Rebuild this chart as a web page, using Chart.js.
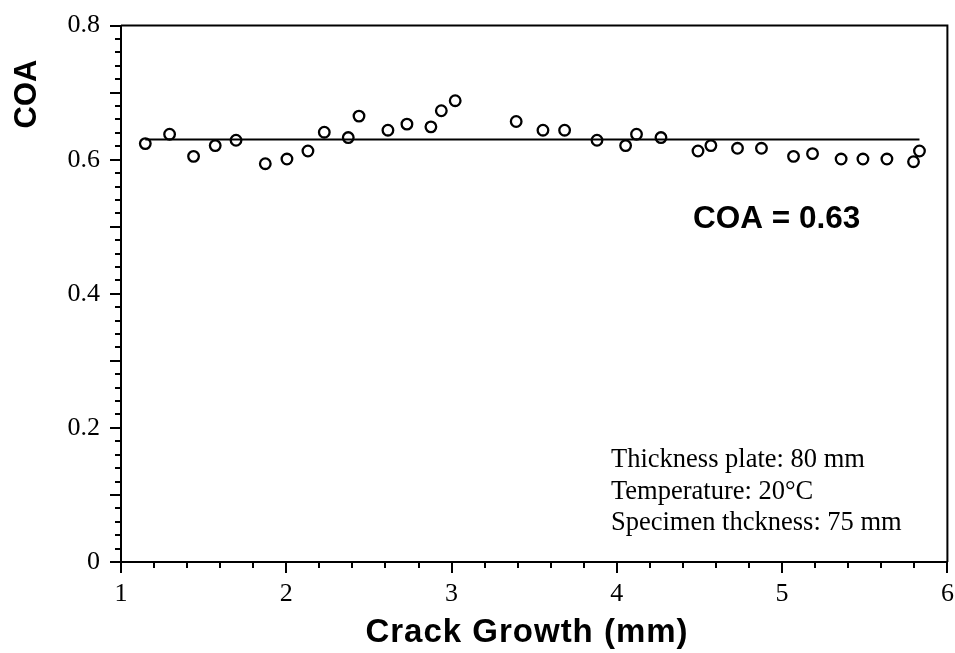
<!DOCTYPE html>
<html>
<head>
<meta charset="utf-8">
<script src="https://cdn.jsdelivr.net/npm/chart.js@4.4.0/dist/chart.umd.min.js"></script>
<style>
  body { margin: 0; background: #fff; }
  #wrap { width: 955px; height: 653px; }
</style>
</head>
<body>
<div id="wrap"><canvas id="coaChart" width="955" height="653"></canvas></div>
<script>
// measured points
const crackGrowth = [1.147, 1.294, 1.439, 1.570, 1.696, 1.873, 2.004, 2.131, 2.230, 2.375, 2.440, 2.615, 2.730, 2.875, 2.938, 3.022, 3.391,
    3.553, 3.684, 3.880, 4.053, 4.119, 4.267, 4.491, 4.569, 4.730, 4.875, 5.069, 5.184, 5.357, 5.489, 5.634, 5.795, 5.831];
const coaValues = [0.624, 0.638, 0.605, 0.621, 0.629, 0.594, 0.601, 0.613, 0.641, 0.633, 0.665, 0.644, 0.653, 0.649, 0.673, 0.688, 0.657,
    0.644, 0.644, 0.629, 0.621, 0.638, 0.633, 0.613, 0.621, 0.617, 0.617, 0.605, 0.609, 0.601, 0.601, 0.601, 0.597, 0.613];

// mean line
const meanCOA = 0.63;
const meanRange = [1.147, 5.831];

// axis labels
const xTickLabels = [1, 2, 3, 4, 5, 6];
const yTickLabels = [0, 0.2, 0.4, 0.6, 0.8];

const notes = ['Thickness plate: 80 mm', 'Temperature: 20°C', 'Specimen thckness: 75 mm'];

function near(v, list) {
    return list.find(t => Math.abs(t - v) < 1e-6);
}

// draw ticks, frame and texts
const extras = {
    id: 'extras',
    afterDraw(chart) {
        const ctx = chart.ctx;
        const area = chart.chartArea;
        const xs = chart.scales.x;
        const ys = chart.scales.y;
        ctx.save();
        ctx.strokeStyle = '#000';
        ctx.lineWidth = 2;
        ctx.beginPath();
        // top and right frame
        ctx.moveTo(area.left, area.top);
        ctx.lineTo(area.right, area.top);
        ctx.lineTo(area.right, area.bottom);
        xs.ticks.forEach((t, i) => {
            const px = Math.round(xs.getPixelForTick(i));
            const len = Math.abs(t.value - Math.round(t.value)) < 1e-6 ? 11 : 6;
            ctx.moveTo(px, area.bottom);
            ctx.lineTo(px, area.bottom + len);
        });
        ys.ticks.forEach((t, i) => {
            const py = Math.round(ys.getPixelForTick(i));
            const r = t.value * 10;
            const len = Math.abs(r - Math.round(r)) < 1e-6 ? 11 : 6;
            ctx.moveTo(area.left, py);
            ctx.lineTo(area.left - len, py);
        });
        ctx.stroke();

        ctx.fillStyle = '#000';
        // y title
        ctx.save();
        ctx.translate(36, 94);
        ctx.rotate(-Math.PI / 2);
        ctx.font = 'bold 31px "Liberation Sans", Arial, sans-serif';
        ctx.textAlign = 'center';
        ctx.textBaseline = 'alphabetic';
        ctx.fillText('COA', 0, 0);
        ctx.restore();

        // x title
        ctx.font = 'bold 33px "Liberation Sans", Arial, sans-serif';
        ctx.letterSpacing = '1px';
        ctx.textAlign = 'center';
        ctx.textBaseline = 'alphabetic';
        ctx.fillText('Crack Growth (mm)', 527, 642);
        ctx.letterSpacing = '0px';

        ctx.textAlign = 'left';
        ctx.font = 'bold 31.5px "Liberation Sans", Arial, sans-serif';
        ctx.fillText('COA = ' + meanCOA.toFixed(2), 693, 228);

        ctx.font = '26.5px "Liberation Serif", "Times New Roman", serif';
        notes.forEach((n, i) => {
            ctx.fillText(n, 611, 467 + i * 31.5);
        });
        ctx.restore();
    }
};

const tickFont = { family: '"Liberation Serif", "Times New Roman", serif', size: 26 };

new Chart(document.getElementById('coaChart'), {
    type: 'scatter',
    data: {
        datasets: [
            {
                label: 'COA',
                data: crackGrowth.map((x, i) => ({ x: x, y: coaValues[i] })),
                pointStyle: 'circle',
                pointRadius: 5.3,
                pointBorderWidth: 2.3,
                borderColor: '#000',
                backgroundColor: 'rgba(0,0,0,0)',
                order: 1
            },
            {
                label: 'mean',
                data: meanRange.map(x => ({ x: x, y: meanCOA })),
                showLine: true,
                borderColor: '#000',
                borderWidth: 2,
                pointRadius: 0,
                order: 2
            }
        ]
    },
    options: {
        responsive: false,
        animation: false,
        devicePixelRatio: 1,
        layout: { padding: { top: 23, right: 0, left: 0, bottom: 0 } },
        plugins: {
            legend: { display: false },
            tooltip: { enabled: false }
        },
        scales: {
            x: {
                type: 'linear',
                min: 1,
                max: 6,
                afterFit: s => { s.height = 91; s.paddingRight = 7; s.paddingLeft = 0; },
                border: { display: true, color: '#000', width: 2 },
                grid: { drawOnChartArea: false, drawTicks: true, tickLength: 11, tickColor: 'rgba(0,0,0,0)' },
                ticks: {
                    stepSize: 0.2,
                    maxTicksLimit: 100,
                    autoSkip: false,
                    maxRotation: 0,
                    padding: 6,
                    color: '#000',
                    font: tickFont,
                    callback: v => {
                        const t = near(v, xTickLabels);
                        return t === undefined ? '' : String(t);
                    }
                }
            },
            y: {
                type: 'linear',
                min: 0,
                max: 0.8,
                afterFit: s => { s.width = 121; },
                border: { display: true, color: '#000', width: 2 },
                grid: { drawOnChartArea: false, drawTicks: true, tickLength: 11, tickColor: 'rgba(0,0,0,0)' },
                ticks: {
                    stepSize: 0.02,
                    maxTicksLimit: 100,
                    autoSkip: false,
                    padding: 10,
                    color: '#000',
                    font: tickFont,
                    callback: v => {
                        const t = near(v, yTickLabels);
                        return t === undefined ? '' : String(t);
                    }
                }
            }
        }
    },
    plugins: [extras]
});
</script>
</body>
</html>
